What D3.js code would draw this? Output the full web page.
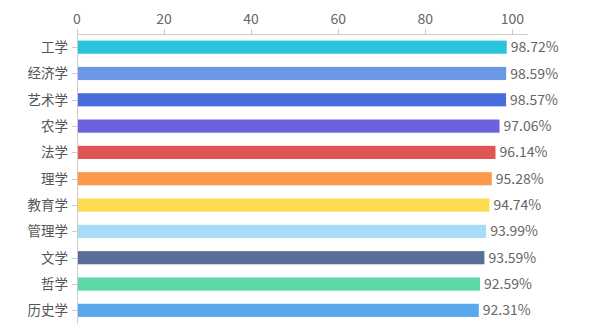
<!DOCTYPE html>
<html>
<head>
<meta charset="utf-8">
<script src="https://cdn.jsdelivr.net/npm/d3@7/dist/d3.min.js"></script>
<style>
  html, body { margin: 0; padding: 0; background: #fff; }
  svg { display: block; font-family: "Noto Sans CJK SC", "Microsoft YaHei", sans-serif; }
</style>
</head>
<body>
<svg id="chart" width="600" height="330"></svg>
<script>
// Discipline categories, top to bottom
const categories = ["工学", "经济学", "艺术学", "农学", "法学", "理学", "教育学", "管理学", "文学", "哲学", "历史学"];
// Rate per discipline (%)
const values = [98.72, 98.59, 98.57, 97.06, 96.14, 95.28, 94.74, 93.99, 93.59, 92.59, 92.31];
// Bar colour per discipline
const colors = ["#29c3dc", "#6b97e6", "#4a6ddc", "#6c62e0", "#e05656", "#fc9a4c", "#fddb4e", "#a7ddf8", "#5a6d97", "#5fd8a9", "#58a8ec"];
// Top axis ticks
const xTicks = [0, 20, 40, 60, 80, 100];

const svg = d3.select("#chart");
const plotLeft = 77, hundredWidth = 435.3, axisEnd = 528;
const plotTop = 34, plotBottom = 323.5;

const x = d3.scaleLinear().domain([0, 100]).range([plotLeft, plotLeft + hundredWidth]);
const y = d3.scaleBand().domain(categories).range([plotTop, plotBottom]).paddingInner(0.5).paddingOuter(0.25);

const textColor = "#666";
const lineColor = "#ccc";

// Top value axis
const gx = svg.append("g");
gx.append("line")
  .attr("x1", plotLeft).attr("x2", axisEnd)
  .attr("y1", plotTop + 0.5).attr("y2", plotTop + 0.5)
  .attr("stroke", lineColor);
gx.selectAll("line.tick").data(xTicks).enter().append("line")
  .attr("class", "tick")
  .attr("x1", d => Math.round(x(d)) + 0.5).attr("x2", d => Math.round(x(d)) + 0.5)
  .attr("y1", plotTop - 5).attr("y2", plotTop)
  .attr("stroke", lineColor);
gx.selectAll("text").data(xTicks).enter().append("text")
  .attr("x", d => x(d)).attr("y", 24)
  .attr("text-anchor", "middle")
  .attr("font-size", 14)
  .attr("fill", textColor)
  .text(d => d);

// Category axis
const gy = svg.append("g");
gy.append("line")
  .attr("x1", plotLeft + 0.5).attr("x2", plotLeft + 0.5)
  .attr("y1", plotTop).attr("y2", plotBottom)
  .attr("stroke", lineColor);
gy.selectAll("line.tick").data(categories).enter().append("line")
  .attr("class", "tick")
  .attr("x1", plotLeft - 5).attr("x2", plotLeft)
  .attr("y1", d => Math.round(y(d) + y.bandwidth() / 2) + 0.5)
  .attr("y2", d => Math.round(y(d) + y.bandwidth() / 2) + 0.5)
  .attr("stroke", lineColor);
gy.selectAll("text").data(categories).enter().append("text")
  .attr("x", 68)
  .attr("y", d => y(d) + y.bandwidth() / 2)
  .attr("dy", "0.36em")
  .attr("text-anchor", "end")
  .attr("font-size", 13.5)
  .attr("fill", "#555")
  .text(d => d);

// Bars
const data = categories.map((c, i) => ({ c, v: values[i], color: colors[i] }));
svg.append("g").selectAll("rect").data(data).enter().append("rect")
  .attr("x", x(0) + 1)
  .attr("y", d => y(d.c))
  .attr("width", d => x(d.v) - x(0) - 1)
  .attr("height", y.bandwidth())
  .attr("fill", d => d.color);

// Value labels
svg.append("g").selectAll("text").data(data).enter().append("text")
  .attr("x", d => x(d.v) + 4)
  .attr("y", d => y(d.c) + y.bandwidth() / 2)
  .attr("dy", "0.36em")
  .attr("font-size", 14)
  .attr("fill", textColor)
  .text(d => d.v.toFixed(2) + "%");
</script>
</body>
</html>
